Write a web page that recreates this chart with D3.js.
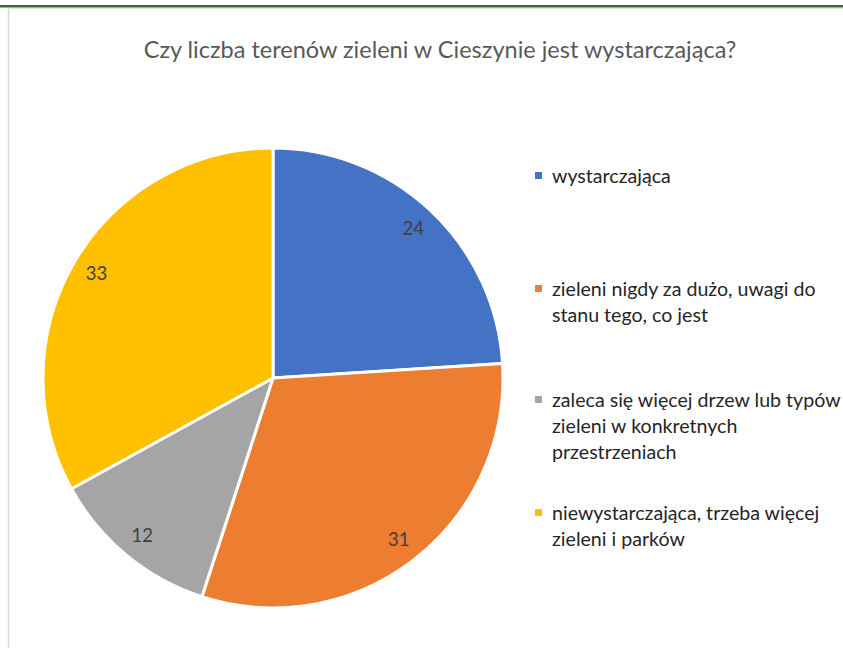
<!DOCTYPE html>
<html>
<head>
<meta charset="utf-8">
<script src="https://cdn.jsdelivr.net/npm/d3@7"></script>
<style>
  body { margin: 0; background: #fff; overflow: hidden; }
  svg { display: block; }
  text { font-family: Lato, "Open Sans", sans-serif; }
</style>
</head>
<body>
<svg id="chart"></svg>
<script>
// dane z wykresu
var categories = [
  "wystarczająca",
  "zieleni nigdy za dużo, uwagi do stanu tego, co jest",
  "zaleca się więcej drzew lub typów zieleni w konkretnych przestrzeniach",
  "niewystarczająca, trzeba więcej zieleni i parków"
];
// legenda w liniach (jak w oryginale)
var legendLines = [
  ["wystarczająca"],
  ["zieleni nigdy za dużo, uwagi do", "stanu tego, co jest"],
  ["zaleca się więcej drzew lub typów", "zieleni w konkretnych", "przestrzeniach"],
  ["niewystarczająca, trzeba więcej", "zieleni i parków"]
];
var values = [24, 31, 12, 33];
var colors = ["#4472c4", "#ed7d31", "#a5a5a5", "#ffc000"];
var title = "Czy liczba terenów zieleni w Cieszynie jest wystarczająca?";

var width = 843, height = 648;
var cx = 273, cy = 378, R = 230;

var svg = d3.select("#chart").attr("width", width).attr("height", height);

// ramka / obramowanie
svg.append("rect").attr("x", 0).attr("y", 5).attr("width", width).attr("height", 2.5).attr("fill", "#3f6b2a");
svg.append("line").attr("x1", 8.5).attr("x2", 8.5).attr("y1", 8).attr("y2", height).attr("stroke", "#d9d9d9").attr("stroke-width", 1.5);
svg.append("line").attr("x1", 8).attr("x2", width).attr("y1", 8.5).attr("y2", 8.5).attr("stroke", "#e6e6e6").attr("stroke-width", 1);

// tytuł
svg.append("text")
  .attr("x", 440).attr("y", 58)
  .attr("text-anchor", "middle")
  .attr("font-size", 23.5)
  .attr("fill", "#595959")
  .text(title);

var pie = d3.pie().sort(null).value(function (d) { return d; });
var arcs = pie(values);
var arc = d3.arc().innerRadius(0).outerRadius(R);
var labelArc = d3.arc().innerRadius(205).outerRadius(205);

var g = svg.append("g").attr("transform", "translate(" + cx + "," + cy + ")");

g.selectAll("path")
  .data(arcs)
  .enter()
  .append("path")
  .attr("d", arc)
  .attr("fill", function (d, i) { return colors[i]; })
  .attr("stroke", "#fff")
  .attr("stroke-width", 3)
  .attr("stroke-linejoin", "round");

g.selectAll("text.lbl")
  .data(arcs)
  .enter()
  .append("text")
  .attr("class", "lbl")
  .attr("transform", function (d) { return "translate(" + labelArc.centroid(d) + ")"; })
  .attr("text-anchor", "middle")
  .attr("dy", "0.35em")
  .attr("font-size", 18.5)
  .attr("fill", "#404040")
  .text(function (d) { return d.data; });

// legenda
var legendY = [176, 289, 400, 513];
var lineH = 26;
var leg = svg.append("g");
legendLines.forEach(function (lines, i) {
  leg.append("rect")
    .attr("x", 535).attr("y", legendY[i] - 4)
    .attr("width", 7).attr("height", 7)
    .attr("fill", colors[i]);
  var t = leg.append("text")
    .attr("x", 552).attr("y", legendY[i])
    .attr("font-size", 19.6)
    .attr("fill", "#262626");
  lines.forEach(function (l, j) {
    t.append("tspan").attr("x", 552).attr("dy", j === 0 ? "0.35em" : lineH).text(l);
  });
});
</script>
</body>
</html>
